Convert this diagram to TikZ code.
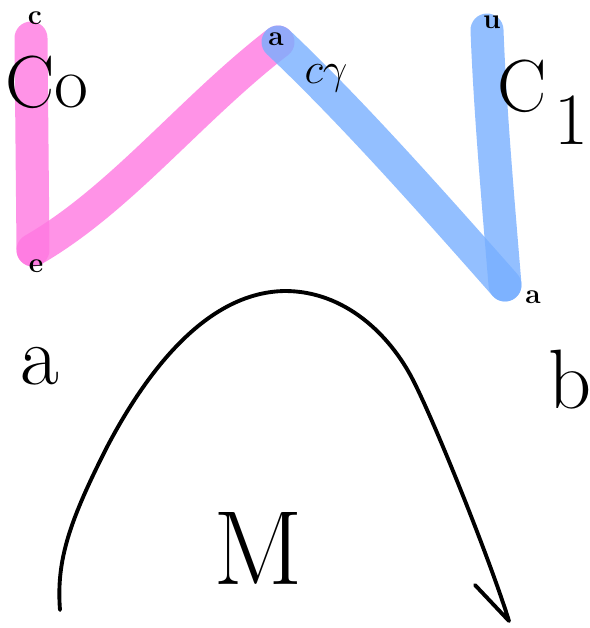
\documentclass[tikz,border=0pt]{standalone}
\definecolor{penpink}{RGB}{255,120,225}
\definecolor{penblue}{RGB}{120,175,255}
\begin{document}
\begin{tikzpicture}[
    x=0.02cm, y=-0.02cm,
    pinkpen/.style={draw=penpink, line width=0.66cm, line cap=round, opacity=0.8},
    bluepen/.style={draw=penblue, line width=0.66cm, line cap=round, opacity=0.8},
    ink/.style={draw=black, line width=2.2pt, line cap=round, line join=round},
    tiny/.style={font=\fontsize{16}{16}\selectfont\bfseries, inner sep=0pt},
    big/.style={font=\fontsize{42}{42}\selectfont, inner sep=0pt}
]
\useasboundingbox (0,0) rectangle (589,628);

% path ends
\coordinate (c0top) at (31,38);
\coordinate (c0bot) at (33,250);
\coordinate (mid)   at (278,42);
\coordinate (c1bot) at (505,285);
\coordinate (c1top) at (487,30);
\coordinate (hilltip) at (509,621);
\coordinate (hook) at (475,585);

% strokes
\draw[pinkpen] (c0top) -- (c0bot);
\draw[pinkpen] (c0bot) .. controls (120,200) and (190,110) .. (mid);
\draw[bluepen] (mid) .. controls (350,110) and (430,200) .. (c1bot);
\draw[bluepen] (c1bot) .. controls (498,200) and (490,110) .. (c1top);

% small end marks
\node[tiny] (m0) at (35,18)  {c};
\node[tiny] (m1) at (36,266) {e};
\node[tiny] (m2) at (276,39) {a};
\node[tiny] (m3) at (533,297) {a};
\node[tiny] (m4) at (492,22) {u};

% labels
\node[big] (lc0) at (47,82)  {Co};
\node[big, font=\fontsize{34}{34}\selectfont] (lcg) at (326,78) {$c\gamma$};
\node[big] (lc1) at (522,86) {C};
\node[big] (one) at (571,120) {1};
\node[big, font=\fontsize{48}{48}\selectfont] (la) at (40,366) {a};
\node[big, font=\fontsize{48}{48}\selectfont] (lb) at (570,380) {b};
\node[big, font=\fontsize{60}{60}\selectfont] (lm) at (258,548) {M};

% the hill
\draw[ink] (60,610) .. controls (56,560) and (70,520) .. (107,447)
    .. controls (150,365) and (210,292) .. (285,291)
    .. controls (345,291) and (390,335) .. (413,380)
    .. controls (436,425) and (490,560) .. (hilltip) -- (hook);
\end{tikzpicture}
\end{document}
